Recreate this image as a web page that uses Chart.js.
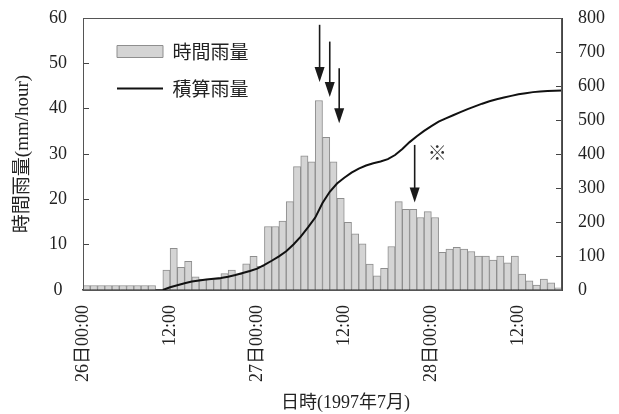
<!DOCTYPE html>
<html>
<head>
<meta charset="utf-8">
<script src="https://cdn.jsdelivr.net/npm/chart.js@4"></script>
<style>
  html, body { margin: 0; padding: 0; background: #fff; }
  #wrap { width: 619px; height: 414px; }
</style>
</head>
<body>
<div id="wrap"><canvas id="grafico" width="619" height="414"></canvas></div>
<script>
// Datos (26-28 julio 1997)

// etiquetas del eje x, una cada 12 horas
const tickLabels = ['26日00:00', '12:00', '27日00:00', '12:00', '28日00:00', '12:00'];

// lluvia horaria (mm/hour), hora 0 .. 65
const rainHourly = [
  1, 1, 1, 1, 1, 1, 1, 1, 1, 1,
  0, 4.4, 9.2, 5.0, 6.3, 2.9, 2.4, 2.4, 2.4, 3.6,
  4.4, 3.5, 5.8, 7.4, 5.2, 14.0, 14.0, 15.2, 19.5, 27.2,
  29.6, 28.3, 41.8, 33.7, 28.3, 20.2, 14.9, 12.4, 10.2, 5.7,
  3.1, 4.8, 9.6, 19.5, 17.8, 17.8, 16.0, 17.3, 16.0, 8.3,
  9.0, 9.4, 9.0, 8.5, 7.5, 7.5, 6.6, 7.5, 6.0, 7.5,
  3.5, 2.0, 1.1, 2.4, 1.6, 0.5
];

// lluvia acumulada (mm), en el limite de cada hora 0 .. 66
const rainTotal = [
  null, null, null, null, null, null, null, null, null, null, null,
  0, 8, 14, 20, 25, 28, 31, 33, 35, 39,
  44, 50, 56, 63, 74, 86, 99, 114, 134, 157,
  184, 213, 256, 289, 313, 330, 345, 357, 366, 373,
  378, 385, 397, 415, 435, 452, 468, 482, 495, 505,
  514, 523, 532, 540, 548, 555, 561, 566, 571, 576,
  579, 582, 584, 585, 586, 587
];

// flechas de anotacion (hora, desde, hasta en mm/hour)
const arrows = [
  { hour: 32.6, from: 58.5, to: 45.9 },
  { hour: 34.0, from: 54.8, to: 42.6 },
  { hour: 35.3, from: 48.9, to: 36.8 },
  { hour: 45.7, from: 32.0, to: 19.3 }
];
const noteMark = { hour: 48.8, value: 30.3, text: '※' };

const fuente = "'Liberation Serif', 'Noto Sans CJK JP', serif";
Chart.defaults.font.family = fuente;
Chart.defaults.color = '#222';

// marco del area del grafico
const marco = {
  id: 'marco',
  afterDraw(chart) {
    const {ctx, chartArea: a} = chart;
    ctx.save();
    ctx.strokeStyle = '#555';
    ctx.lineWidth = 1;
    ctx.strokeRect(a.left + 0.5, a.top + 0.5, a.right - a.left - 1, a.bottom - a.top);
    ctx.restore();
  }
};

// mover la leyenda dentro del area
const moverLeyenda = {
  id: 'moverLeyenda',
  afterLayout(chart) {
    chart.legend.left = chart.chartArea.left + 16;
    chart.legend.top = chart.chartArea.top + 6;
  }
};

// flechas y marca ※
const flechas = {
  id: 'flechas',
  afterDatasetsDraw(chart) {
    const {ctx, scales: {x, y}} = chart;
    ctx.save();
    ctx.strokeStyle = '#1a1a1a';
    ctx.fillStyle = '#1a1a1a';
    ctx.lineWidth = 1.6;
    arrows.forEach(a => {
      const px = x.getPixelForValue(a.hour);
      const y0 = y.getPixelForValue(a.from);
      const y1 = y.getPixelForValue(a.to);
      ctx.beginPath();
      ctx.moveTo(px, y0);
      ctx.lineTo(px, y1 - 12);
      ctx.stroke();
      ctx.beginPath();
      ctx.moveTo(px - 5, y1 - 15);
      ctx.lineTo(px + 5, y1 - 15);
      ctx.lineTo(px, y1);
      ctx.closePath();
      ctx.fill();
    });
    ctx.font = "19px 'Noto Sans CJK JP'";
    ctx.fillStyle = '#333';
    ctx.textAlign = 'center';
    ctx.textBaseline = 'middle';
    ctx.fillText(noteMark.text, x.getPixelForValue(noteMark.hour), y.getPixelForValue(noteMark.value));

    // titulo del eje x
    ctx.font = '18px ' + fuente;
    ctx.fillStyle = '#222';
    ctx.textBaseline = 'middle';
    ctx.fillText('日時(1997年7月)', (x.left + x.right) / 2 + 23, 403);
    ctx.restore();
  }
};

// ancho fijo de los ejes verticales, sin relleno extra arriba/abajo
const fijarEje = (ancho) => (s) => {
  s.width = ancho;
  s.paddingTop = 0;
  s.paddingBottom = 0;
};

const ctxGrafico = document.getElementById('grafico').getContext('2d');

new Chart(ctxGrafico, {
  type: 'bar',
  data: {
    datasets: [
      {
        type: 'bar',
        label: '時間雨量',
        data: rainHourly.map((v, i) => ({ x: i + 0.5, y: v })),
        backgroundColor: '#d4d4d4',
        borderColor: '#8e8e8e',
        borderWidth: 1,
        barPercentage: 1,
        categoryPercentage: 1,
        pointStyle: 'rect',
        yAxisID: 'y',
        order: 2
      },
      {
        type: 'line',
        label: '積算雨量',
        data: rainTotal.map((v, i) => ({ x: i, y: v })),
        borderColor: '#111',
        borderWidth: 2,
        pointRadius: 0,
        pointStyle: 'line',
        tension: 0,
        yAxisID: 'y1',
        order: 1
      }
    ]
  },
  options: {
    responsive: false,
    animation: false,
    layout: { padding: { top: 18, left: 0, right: 0, bottom: 0 } },
    plugins: {
      tooltip: { enabled: false },
      legend: {
        position: 'chartArea',
        align: 'start',
        labels: {
          usePointStyle: true,
          pointStyleWidth: 46,
          boxHeight: 12,
          padding: 18,
          color: '#222',
          font: { size: 19, family: "'Noto Sans CJK JP', sans-serif" },
          sort: (a, b) => a.datasetIndex - b.datasetIndex
        }
      }
    },
    scales: {
      x: {
        type: 'linear',
        min: 0,
        max: 66,
        offset: false,
        grid: { display: false },
        border: { display: true, color: '#444', width: 1.5 },
        ticks: {
          stepSize: 12,
          autoSkip: false,
          includeBounds: false,
          maxRotation: 90,
          minRotation: 90,
          padding: 7,
          font: { size: 18 },
          callback: v => (v % 12 === 0 ? tickLabels[v / 12] : '')
        },
        afterFit: s => { s.height = 124; }
      },
      y: {
        position: 'left',
        min: 0,
        max: 60,
        grid: { drawOnChartArea: false, tickLength: -6, color: '#444' },
        border: { display: true, color: '#444' },
        ticks: { stepSize: 10, padding: 22, crossAlign: 'center', font: { size: 18 } },
        title: {
          display: true,
          text: '時間雨量(mm/hour)',
          font: { size: 19 },
          padding: { top: 12, bottom: 0 }
        },
        afterFit: fijarEje(83)
      },
      y1: {
        position: 'right',
        min: 0,
        max: 800,
        grid: { drawOnChartArea: false, tickLength: -6, color: '#444' },
        border: { display: true, color: '#444' },
        ticks: { stepSize: 100, padding: 22, font: { size: 18 } },
        afterFit: fijarEje(57)
      }
    }
  },
  plugins: [marco, moverLeyenda, flechas]
});
</script>
</body>
</html>
